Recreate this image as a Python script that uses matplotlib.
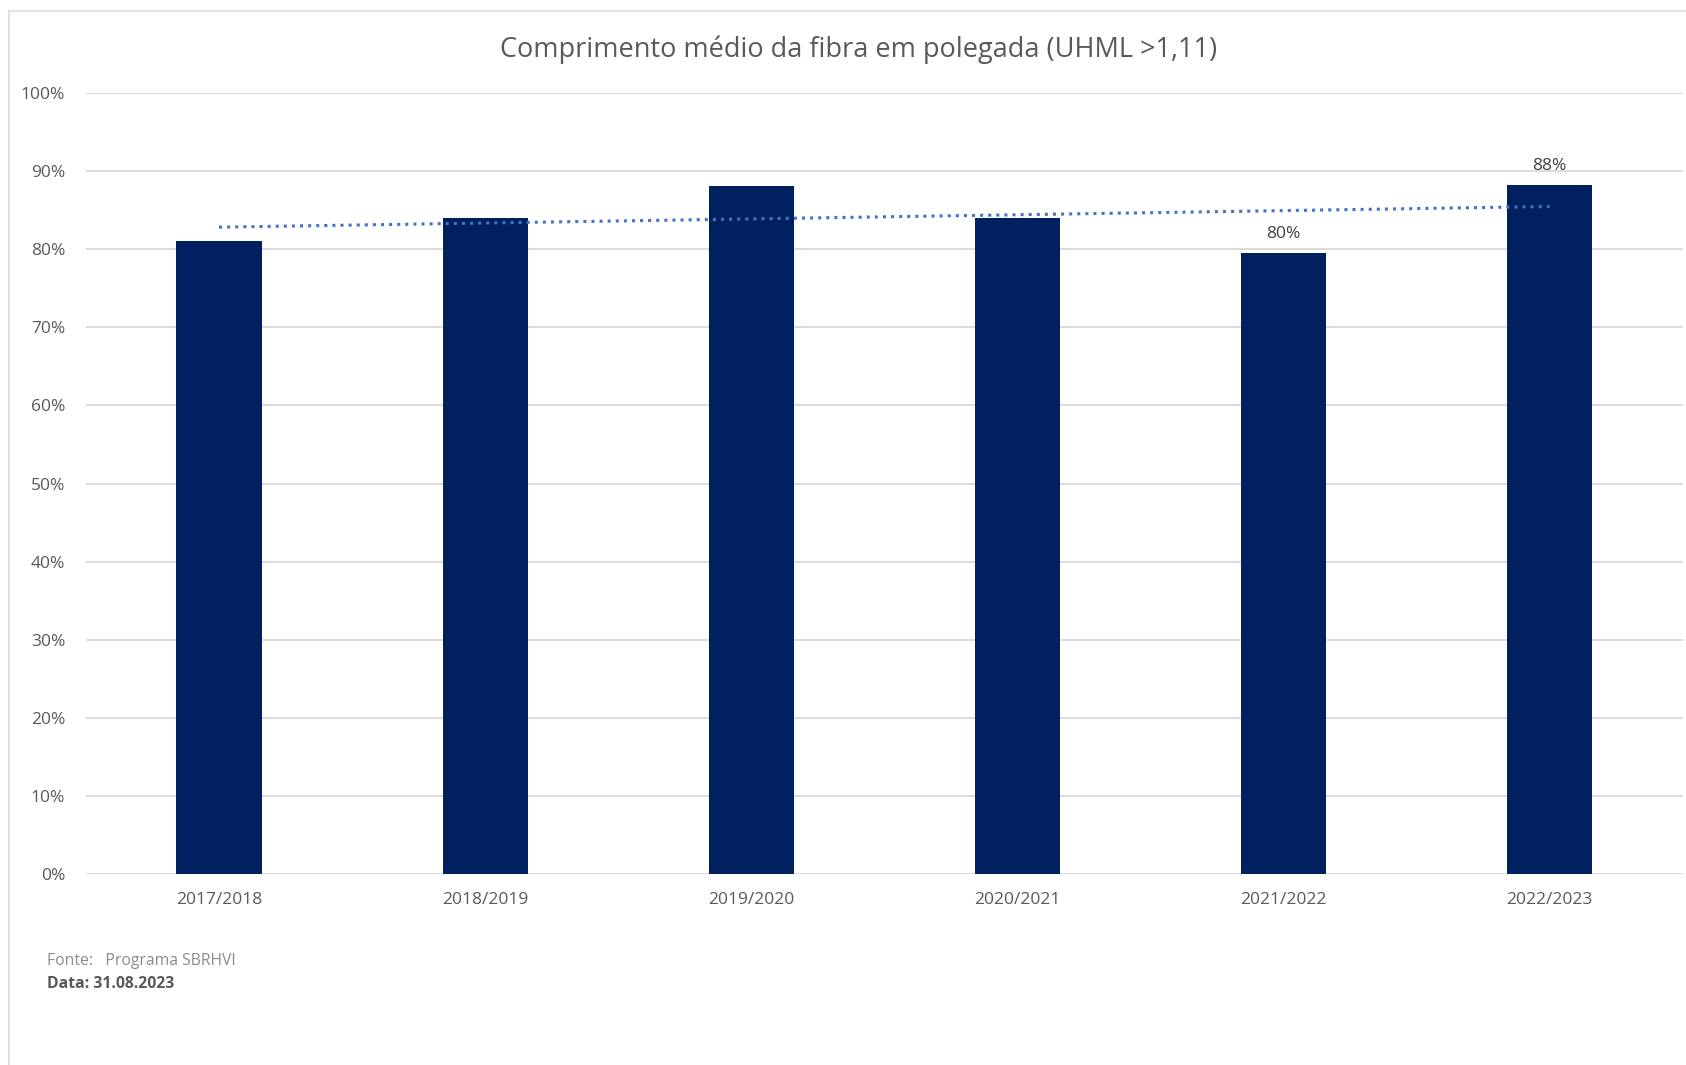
import matplotlib.pyplot as plt
import numpy as np
from matplotlib.patches import Rectangle

safras = ['2017/2018', '2018/2019', '2019/2020', '2020/2021', '2021/2022', '2022/2023']
valores = [0.81, 0.84, 0.88, 0.84, 0.795, 0.882]
rotulos = [None, None, None, None, '80%', '88%']
yticks = [0, 0.1, 0.2, 0.3, 0.4, 0.5, 0.6, 0.7, 0.8, 0.9, 1.0]

plt.rcParams['font.family'] = ['Open Sans', 'DejaVu Sans']

fig = plt.figure(figsize=(16.86, 10.65), dpi=100)
ax = fig.add_axes([0.051, 0.179, 0.947, 0.734])

x = np.arange(len(safras))
ax.bar(x, valores, width=0.32, color='#002060', zorder=3)

# linha de tendencia linear
coef = np.polyfit(x, valores, 1)
ax.plot(x, np.polyval(coef, x), color='#4472C4', linestyle=':', linewidth=2.2, zorder=4)

for xi, v, r in zip(x, valores, rotulos):
    if r:
        ax.annotate(r, (xi, v), xytext=(0, 8), textcoords='offset points',
                    ha='center', va='bottom', fontsize=12.5, color='#404040')

ax.set_xlim(-0.5, len(safras) - 0.5)
ax.set_ylim(0, 1.0)
ax.set_yticks(yticks)
ax.set_yticklabels([f'{int(round(t * 100))}%' for t in yticks])
ax.set_xticks(x)
ax.set_xticklabels(safras)
ax.tick_params(axis='both', length=0, labelsize=12.5, colors='#595959')
ax.tick_params(axis='x', pad=13)
ax.tick_params(axis='y', pad=15)
ax.grid(True, axis='y', color='#d9d9d9', linewidth=1.3, zorder=0)
for s in ax.spines.values():
    s.set_visible(False)

fig.text(0.509, 0.953, 'Comprimento médio da fibra em polegada (UHML >1,11)',
         ha='center', va='center', fontsize=19.5, color='#595959')

fig.text(0.028, 0.098, 'Fonte:   Programa SBRHVI', ha='left', va='center',
         fontsize=11.3, color='#8c8c8c')
fig.text(0.028, 0.076, 'Data: 31.08.2023', ha='left', va='center',
         fontsize=11.3, color='#595959', fontweight='bold')

fig.patches.append(Rectangle((9 / 1686, -0.05), 1.1, 1 - 11 / 1065 + 0.05,
                             transform=fig.transFigure, fill=False,
                             edgecolor='#d9d9d9', linewidth=1.2))

fig.savefig('out.png', dpi=100)
